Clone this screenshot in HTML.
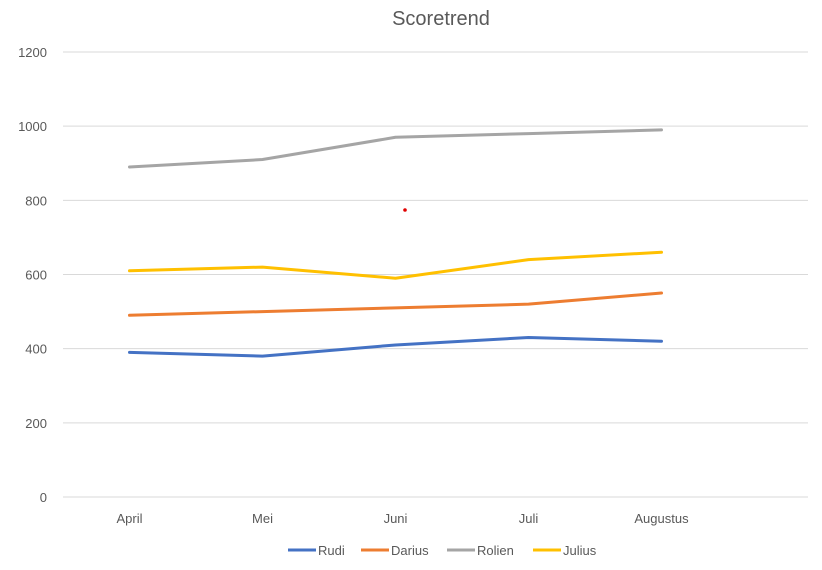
<!DOCTYPE html>
<html><head><meta charset="utf-8"><style>
body{margin:0;background:#fff;}
svg{display:block;font-family:"Liberation Sans",sans-serif;}
</style></head><body>
<svg id="chart" width="822" height="570">
<text x="441" y="25" text-anchor="middle" font-size="20" fill="#595959">Scoretrend</text>
<g id="grid"></g><g id="ylab"></g><g id="xlab"></g><g id="lines"></g><g id="legend"></g>
<circle cx="405" cy="210" r="1.8" fill="#e00000"/>
</svg>
<script>
const categories=["April","Mei","Juni","Juli","Augustus"];
const rudi=[390,380,410,430,420];
const darius=[490,500,510,520,550];
const rolien=[890,910,970,980,990];
const julius=[610,620,590,640,660];
const yTicks=[0,200,400,600,800,1000,1200];
const seriesNames=["Rudi","Darius","Rolien","Julius"];
const seriesColors=["#4472c4","#ed7d31","#a5a5a5","#ffc000"];
const seriesData=[rudi,darius,rolien,julius];
const NS="http://www.w3.org/2000/svg";
const x0=63,x1=808,yBase=497,yTop=52,yMax=1200,step=133;
const y=v=>yBase-(v/yMax)*(yBase-yTop);
const x=i=>x0+step*(i+0.5);
function mk(t,a,p){const e=document.createElementNS(NS,t);for(const k in a)e.setAttribute(k,a[k]);p.appendChild(e);return e;}
const g=document.getElementById('grid'),yl=document.getElementById('ylab'),xl=document.getElementById('xlab'),ln=document.getElementById('lines'),lg=document.getElementById('legend');
yTicks.forEach(t=>{
 const l=mk('line',{x1:x0,x2:x1,y1:y(t),y2:y(t),stroke:'#d9d9d9','stroke-width':1},g);
 
 
 const tx=mk('text',{x:47,y:y(t)+5,'text-anchor':'end','font-size':13,fill:'#595959'},yl);
 tx.textContent=t;
 
 
});
categories.forEach((c,i)=>{
 const tx=mk('text',{x:x(i),y:523,'text-anchor':'middle','font-size':13,fill:'#595959'},xl);
 tx.textContent=c;
 
 
});
seriesData.forEach((d,s)=>{
 const p=mk('polyline',{points:d.map((v,i)=>x(i)+','+y(v)).join(' '),fill:'none',stroke:seriesColors[s],'stroke-width':3,'stroke-linejoin':'round','stroke-linecap':'round'},ln);
 
 
});
const legX=[288,361,447,533];
seriesNames.forEach((n,s)=>{
 const grp=mk('g',{},lg);
 
 
 mk('line',{x1:legX[s],x2:legX[s]+28,y1:550,y2:550,stroke:seriesColors[s],'stroke-width':3},grp);
 const t=mk('text',{x:legX[s]+30,y:555,'font-size':13,fill:'#595959'},grp);
 t.textContent=n;
});
</script>
</body></html>
